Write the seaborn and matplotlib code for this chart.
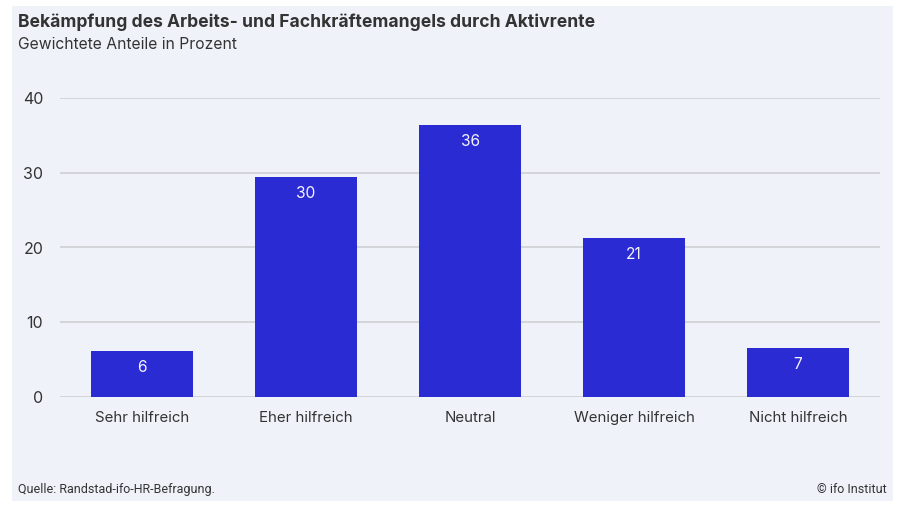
import matplotlib
matplotlib.use("Agg")
import matplotlib.pyplot as plt
from matplotlib.patches import Rectangle
import seaborn as sns
import pandas as pd

categories = ["Sehr hilfreich", "Eher hilfreich", "Neutral", "Weniger hilfreich", "Nicht hilfreich"]
values = [6.2, 29.4, 36.4, 21.3, 6.6]
labels = ["6", "30", "36", "21", "7"]
yticks = [0, 10, 20, 30, 40]

title = "Bekämpfung des Arbeits- und Fachkräftemangels durch Aktivrente"
subtitle = "Gewichtete Anteile in Prozent"
source = "Quelle: Randstad-ifo-HR-Befragung."
credit = "© ifo Institut"

sns.set_theme(style="white")
plt.rcParams["font.family"] = ["Inter", "DejaVu Sans"]

bg = "#eff3f9"
bar_color = "#2b2bd4"
text_color = "#333333"

fig = plt.figure(figsize=(9.04, 5.11), dpi=100)
fig.patch.set_facecolor("white")
rect = Rectangle((12 / 904, 1 - 501 / 511), (893 - 12) / 904, (501 - 6) / 511,
                 transform=fig.transFigure, facecolor=bg, edgecolor="none", zorder=-10)
fig.add_artist(rect)

ax = fig.add_axes([60 / 904, 114 / 511, 820 / 904, 299 / 511])
ax.set_facecolor("none")
ax.set_zorder(1)

df = pd.DataFrame({"cat": categories, "val": values})
sns.barplot(data=df, x="cat", y="val", color=bar_color, saturation=1, width=0.628,
            linewidth=0, edgecolor="none", ax=ax, zorder=3)

for i, (v, lab) in enumerate(zip(values, labels)):
    ax.text(i, v - 1.2, lab, ha="center", va="top", color="#f4f4ff", fontsize=11.2, zorder=4)

ax.set_xlim(-0.5, 4.5)
ax.set_ylim(0, 40)
ax.set_yticks(yticks)
ax.grid(axis="y", color="#cfcfd2", linewidth=1.2, zorder=0)
ax.set_axisbelow(True)
for s in ax.spines.values():
    s.set_visible(False)
ax.tick_params(axis="both", length=0, colors=text_color)
ax.tick_params(axis="y", pad=12, labelsize=11.5)
ax.tick_params(axis="x", pad=10, labelsize=10.8)
ax.set_xlabel("")
ax.set_ylabel("")

fig.text(18 / 904, 1 - 27 / 511, title, fontsize=12.6, fontweight="bold", color=text_color, va="baseline")
fig.text(18 / 904, 1 - 49 / 511, subtitle, fontsize=11.3, color=text_color, va="baseline")
fig.text(18 / 904, 1 - 493 / 511, source, fontsize=9, color=text_color, va="baseline",
         family=["Roboto", "DejaVu Sans"])
fig.text(887 / 904, 1 - 493 / 511, credit, fontsize=9, color=text_color, va="baseline", ha="right",
         family=["Roboto", "DejaVu Sans"])

fig.savefig("out.png", dpi=100, facecolor="white")
